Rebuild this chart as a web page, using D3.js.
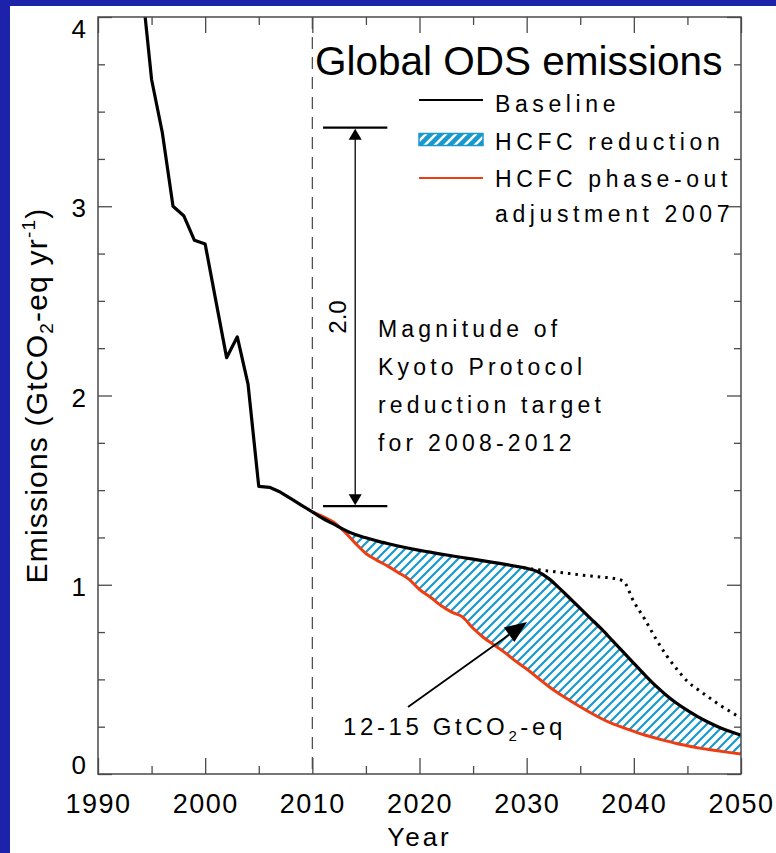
<!DOCTYPE html>
<html>
<head>
<meta charset="utf-8">
<script src="https://cdn.jsdelivr.net/npm/d3@7"></script>
<style>
  html, body { margin: 0; padding: 0; background: #fff; }
  svg { display: block; }
  text { font-family: "Liberation Sans", Arial, Helvetica, sans-serif; fill: #000; }
</style>
</head>
<body>
<svg id="chart" width="776" height="853"></svg>
<script>
// ---- data (GtCO2-eq per year) ----
const historyYears = d3.range(1994, 2011);
const historyValues = [4.22, 3.67, 3.39, 3.00, 2.95, 2.82, 2.80, 2.50, 2.20, 2.31,
                       2.06, 1.52, 1.515, 1.49, 1.455, 1.42, 1.385];

const projectionYears = d3.range(2010, 2051);
const baselineValues = [1.385, 1.35, 1.32, 1.29, 1.265, 1.248, 1.232, 1.218, 1.205, 1.193,
                        1.182, 1.172, 1.162, 1.153, 1.144, 1.135, 1.126, 1.117, 1.108, 1.098,
                        1.087, 1.07, 1.035, 0.985, 0.93, 0.875, 0.82, 0.765, 0.705, 0.645,
                        0.585, 0.525, 0.468, 0.418, 0.374, 0.336, 0.302, 0.272, 0.246, 0.224, 0.205];
const phaseOutValues = [1.385, 1.36, 1.33, 1.28, 1.22, 1.165, 1.13, 1.10, 1.065, 1.03,
                        0.975, 0.935, 0.89, 0.855, 0.83, 0.77, 0.72, 0.68, 0.64, 0.595,
                        0.555, 0.51, 0.465, 0.425, 0.39, 0.355, 0.322, 0.292, 0.266, 0.245,
                        0.225, 0.206, 0.19, 0.175, 0.161, 0.149, 0.138, 0.129, 0.121, 0.113, 0.106];

const dottedYears = d3.range(2029, 2051);
const dottedValues = [1.098, 1.087, 1.08, 1.073, 1.066, 1.059, 1.052, 1.046, 1.04, 1.035, 1.02,
                      0.91, 0.82, 0.72, 0.63, 0.555, 0.49, 0.445, 0.405, 0.365, 0.33, 0.295];

const xMajorTicks = [1990, 2000, 2010, 2020, 2030, 2040, 2050];
const xMinorTicks = [1995, 2005, 2015, 2025, 2035, 2045];
const yMajorTicks = [0, 1, 2, 3, 4];
const yMinorTicks = [0.25, 0.5, 0.75, 1.25, 1.5, 1.75, 2.25, 2.5, 2.75, 3.25, 3.5, 3.75];

const kyotoLow = 1.415, kyotoHigh = 3.415;   // 2.0 GtCO2-eq span
const kyotoYear = 2014, kyotoBarFrom = 2011, kyotoBarTo = 2017;
const markerYear = 2010;

const legendLabels = ["Baseline", "HCFC reduction", "HCFC phase-out", "adjustment 2007"];
const kyotoLines = ["Magnitude of", "Kyoto Protocol", "reduction target", "for 2008-2012"];

// ---- layout ----
const svg = d3.select("#chart");
const W = 776, H = 853;
const pLeft = 98, pRight = 741, pTop = 17, pBottom = 774;
const axisColor = "#4a4a4a";
const hatchBlue = "#1798cf";
const red = "#ee3d12";

const x = d3.scaleLinear().domain([1990, 2050]).range([pLeft, pRight]);
const y = d3.scaleLinear().domain([0, 4]).range([pBottom, pTop]);

// page background and blue frame edges
svg.append("rect").attr("width", W).attr("height", H).attr("fill", "#fff");
svg.append("rect").attr("x", 0).attr("y", 0).attr("width", 10).attr("height", H).attr("fill", "#1c22aa");
svg.append("rect").attr("x", 0).attr("y", 0).attr("width", W).attr("height", 6).attr("fill", "#1c22aa");

// hatch patterns
const defs = svg.append("defs");
const pat = defs.append("pattern").attr("id", "hatch").attr("patternUnits", "userSpaceOnUse")
  .attr("width", 9).attr("height", 9);
pat.append("path").attr("d", "M0,9 L9,0 M-2,2 L2,-2 M7,11 L11,7")
  .attr("stroke", hatchBlue).attr("stroke-width", 2.2);
const patL = defs.append("pattern").attr("id", "hatchLegend").attr("patternUnits", "userSpaceOnUse")
  .attr("width", 10).attr("height", 10);
patL.append("rect").attr("width", 10).attr("height", 10).attr("fill", hatchBlue);
patL.append("path").attr("d", "M0,10 L10,0 M-2,2 L2,-2 M8,12 L12,8")
  .attr("stroke", "#fff").attr("stroke-width", 2.6);

defs.append("clipPath").attr("id", "plotClip").append("rect")
  .attr("x", pLeft).attr("y", pTop).attr("width", pRight - pLeft).attr("height", pBottom - pTop);

const plot = svg.append("g").attr("clip-path", "url(#plotClip)");

// HCFC reduction area
const proj = projectionYears.map((yr, i) => ({ yr, base: baselineValues[i], po: phaseOutValues[i] }));
plot.append("path").datum(proj)
  .attr("fill", "url(#hatch)")
  .attr("d", d3.area().curve(d3.curveMonotoneX)
    .x(d => x(d.yr)).y0(d => y(d.po)).y1(d => y(d.base)));

// 2010 marker
svg.append("line").attr("x1", x(markerYear)).attr("x2", x(markerYear))
  .attr("y1", pTop).attr("y2", pBottom)
  .attr("stroke", "#444").attr("stroke-width", 1.2).attr("stroke-dasharray", "12,8");

const line = d3.line().x(d => x(d[0])).y(d => y(d[1]));
const smooth = d3.line().curve(d3.curveMonotoneX).x(d => x(d[0])).y(d => y(d[1]));

// dotted continuation
plot.append("path").datum(dottedYears.map((yr, i) => [yr, dottedValues[i]]))
  .attr("fill", "none").attr("stroke", "#000").attr("stroke-width", 3)
  .attr("stroke-dasharray", "2.5,5").attr("d", smooth);

// phase-out line
plot.append("path").datum(projectionYears.map((yr, i) => [yr, phaseOutValues[i]]))
  .attr("fill", "none").attr("stroke", red).attr("stroke-width", 3)
  .attr("stroke-linejoin", "round").attr("d", smooth);

// baseline: observed part, then projection
plot.append("path").datum(historyYears.map((yr, i) => [yr, historyValues[i]]))
  .attr("fill", "none").attr("stroke", "#000").attr("stroke-width", 3.2)
  .attr("stroke-linejoin", "round").attr("d", line);
plot.append("path").datum(projectionYears.map((yr, i) => [yr, baselineValues[i]]))
  .attr("fill", "none").attr("stroke", "#000").attr("stroke-width", 3.2)
  .attr("stroke-linejoin", "round").attr("d", smooth);

// ---- axes (ticks point inward on all four sides) ----
function styleAxis(g) {
  g.select(".domain").remove();
  g.selectAll("line").attr("stroke", axisColor).attr("stroke-width", 1.3);
}
svg.append("g").attr("transform", `translate(0,${pBottom})`)
  .call(d3.axisBottom(x).tickValues(xMajorTicks).tickSize(-16).tickFormat(d3.format("d")))
  .call(styleAxis)
  .call(g => g.selectAll("text").attr("y", 39).attr("dy", 0)
    .attr("font-size", 27).attr("letter-spacing", 1.5).attr("fill", "#000")
    .attr("font-family", "Liberation Sans, Arial, sans-serif"));
svg.append("g").attr("transform", `translate(0,${pBottom})`)
  .call(d3.axisBottom(x).tickValues(xMinorTicks).tickSize(-8).tickFormat(""))
  .call(styleAxis);
svg.append("g").attr("transform", `translate(0,${pTop})`)
  .call(d3.axisTop(x).tickValues(xMajorTicks).tickSize(-16).tickFormat(""))
  .call(styleAxis);
svg.append("g").attr("transform", `translate(0,${pTop})`)
  .call(d3.axisTop(x).tickValues(xMinorTicks).tickSize(-8).tickFormat(""))
  .call(styleAxis);

svg.append("g").attr("transform", `translate(${pLeft},0)`)
  .call(d3.axisLeft(y).tickValues(yMajorTicks).tickSize(-14).tickFormat(d3.format("d")))
  .call(styleAxis)
  .call(g => g.selectAll("text").attr("x", -12)
    .attr("dy", d => d === 0 ? -1 : d === 4 ? 20 : 10.5)
    .attr("font-size", 26).attr("fill", "#000")
    .attr("font-family", "Liberation Sans, Arial, sans-serif"));
svg.append("g").attr("transform", `translate(${pLeft},0)`)
  .call(d3.axisLeft(y).tickValues(yMinorTicks).tickSize(-7).tickFormat(""))
  .call(styleAxis);
svg.append("g").attr("transform", `translate(${pRight},0)`)
  .call(d3.axisRight(y).tickValues(yMajorTicks).tickSize(-14).tickFormat(""))
  .call(styleAxis);
svg.append("g").attr("transform", `translate(${pRight},0)`)
  .call(d3.axisRight(y).tickValues(yMinorTicks).tickSize(-7).tickFormat(""))
  .call(styleAxis);

svg.append("rect").attr("x", pLeft).attr("y", pTop).attr("width", pRight - pLeft).attr("height", pBottom - pTop)
  .attr("fill", "none").attr("stroke", axisColor).attr("stroke-width", 1.5);

// axis titles
svg.append("text").attr("x", (pLeft + pRight) / 2).attr("y", 846)
  .attr("text-anchor", "middle").attr("font-size", 26).attr("letter-spacing", 3).text("Year");

const yTitle = svg.append("text")
  .attr("transform", `translate(47,${(pTop + pBottom) / 2}) rotate(-90)`)
  .attr("text-anchor", "middle").attr("font-size", 30).attr("letter-spacing", 1.2);
yTitle.append("tspan").text("Emissions (GtCO");
yTitle.append("tspan").attr("font-size", 19).attr("dy", 6).text("2");
yTitle.append("tspan").attr("dy", -6).text("-eq yr");
yTitle.append("tspan").attr("font-size", 19).attr("dy", -12).text("-1");
yTitle.append("tspan").attr("dy", 12).text(")");

// title
svg.append("text").attr("x", 315).attr("y", 75).attr("font-size", 40.5).text("Global ODS emissions");

// legend
const lgX0 = 419, lgX1 = 483, lgTx = 495;
svg.append("line").attr("x1", lgX0).attr("x2", lgX1).attr("y1", 100).attr("y2", 100)
  .attr("stroke", "#000").attr("stroke-width", 2.2);
svg.append("rect").attr("x", lgX0).attr("y", 133.5).attr("width", lgX1 - lgX0).attr("height", 12)
  .attr("fill", "url(#hatchLegend)").attr("stroke", hatchBlue).attr("stroke-width", 1.5);
svg.append("line").attr("x1", lgX0).attr("x2", lgX1).attr("y1", 178).attr("y2", 178)
  .attr("stroke", red).attr("stroke-width", 2.2);
const legendBaselines = [111.5, 150, 186.5, 221.5];
legendLabels.forEach((t, i) => {
  svg.append("text").attr("x", lgTx).attr("y", legendBaselines[i])
    .attr("font-size", 23).attr("letter-spacing", 4.6).text(t);
});

// Kyoto target bracket
const kx = x(kyotoYear);
[kyotoLow, kyotoHigh].forEach(v => {
  svg.append("line").attr("x1", x(kyotoBarFrom)).attr("x2", x(kyotoBarTo))
    .attr("y1", y(v)).attr("y2", y(v)).attr("stroke", "#000").attr("stroke-width", 2.2);
});
svg.append("line").attr("x1", kx).attr("x2", kx).attr("y1", y(kyotoHigh) + 8).attr("y2", y(kyotoLow) - 8)
  .attr("stroke", "#000").attr("stroke-width", 1.3);
svg.append("path").attr("d", `M${kx},${y(kyotoHigh) + 1} l-6.5,11 h13 Z`).attr("fill", "#000");
svg.append("path").attr("d", `M${kx},${y(kyotoLow) - 1} l-6.5,-11 h13 Z`).attr("fill", "#000");
svg.append("text")
  .attr("transform", `translate(${kx - 9},${(y(kyotoHigh) + y(kyotoLow)) / 2}) rotate(-90)`)
  .attr("text-anchor", "middle").attr("font-size", 24).text(d3.format(".1f")(kyotoHigh - kyotoLow));

kyotoLines.forEach((t, i) => {
  svg.append("text").attr("x", 378).attr("y", 336.5 + i * 38.3)
    .attr("font-size", 23).attr("letter-spacing", 4.2).text(t);
});

// cumulative reduction pointer
const ax0 = 408, ay0 = 707, ax1 = 527, ay1 = 622;
const ang = Math.atan2(ay1 - ay0, ax1 - ax0);
const hl = 22, hw = 9;
const bx = ax1 - hl * Math.cos(ang), by = ay1 - hl * Math.sin(ang);
svg.append("line").attr("x1", ax0).attr("y1", ay0).attr("x2", bx).attr("y2", by)
  .attr("stroke", "#000").attr("stroke-width", 1.8);
svg.append("path").attr("d",
  `M${ax1},${ay1} L${bx - hw * Math.sin(ang)},${by + hw * Math.cos(ang)} L${bx + hw * Math.sin(ang)},${by - hw * Math.cos(ang)} Z`)
  .attr("fill", "#000");

const cum = svg.append("text").attr("x", 343).attr("y", 735).attr("font-size", 24).attr("letter-spacing", 3.6);
cum.append("tspan").text("12-15 GtCO");
cum.append("tspan").attr("font-size", 15).attr("dy", 6).text("2");
cum.append("tspan").attr("dy", -6).text("-eq");
</script>
</body>
</html>
